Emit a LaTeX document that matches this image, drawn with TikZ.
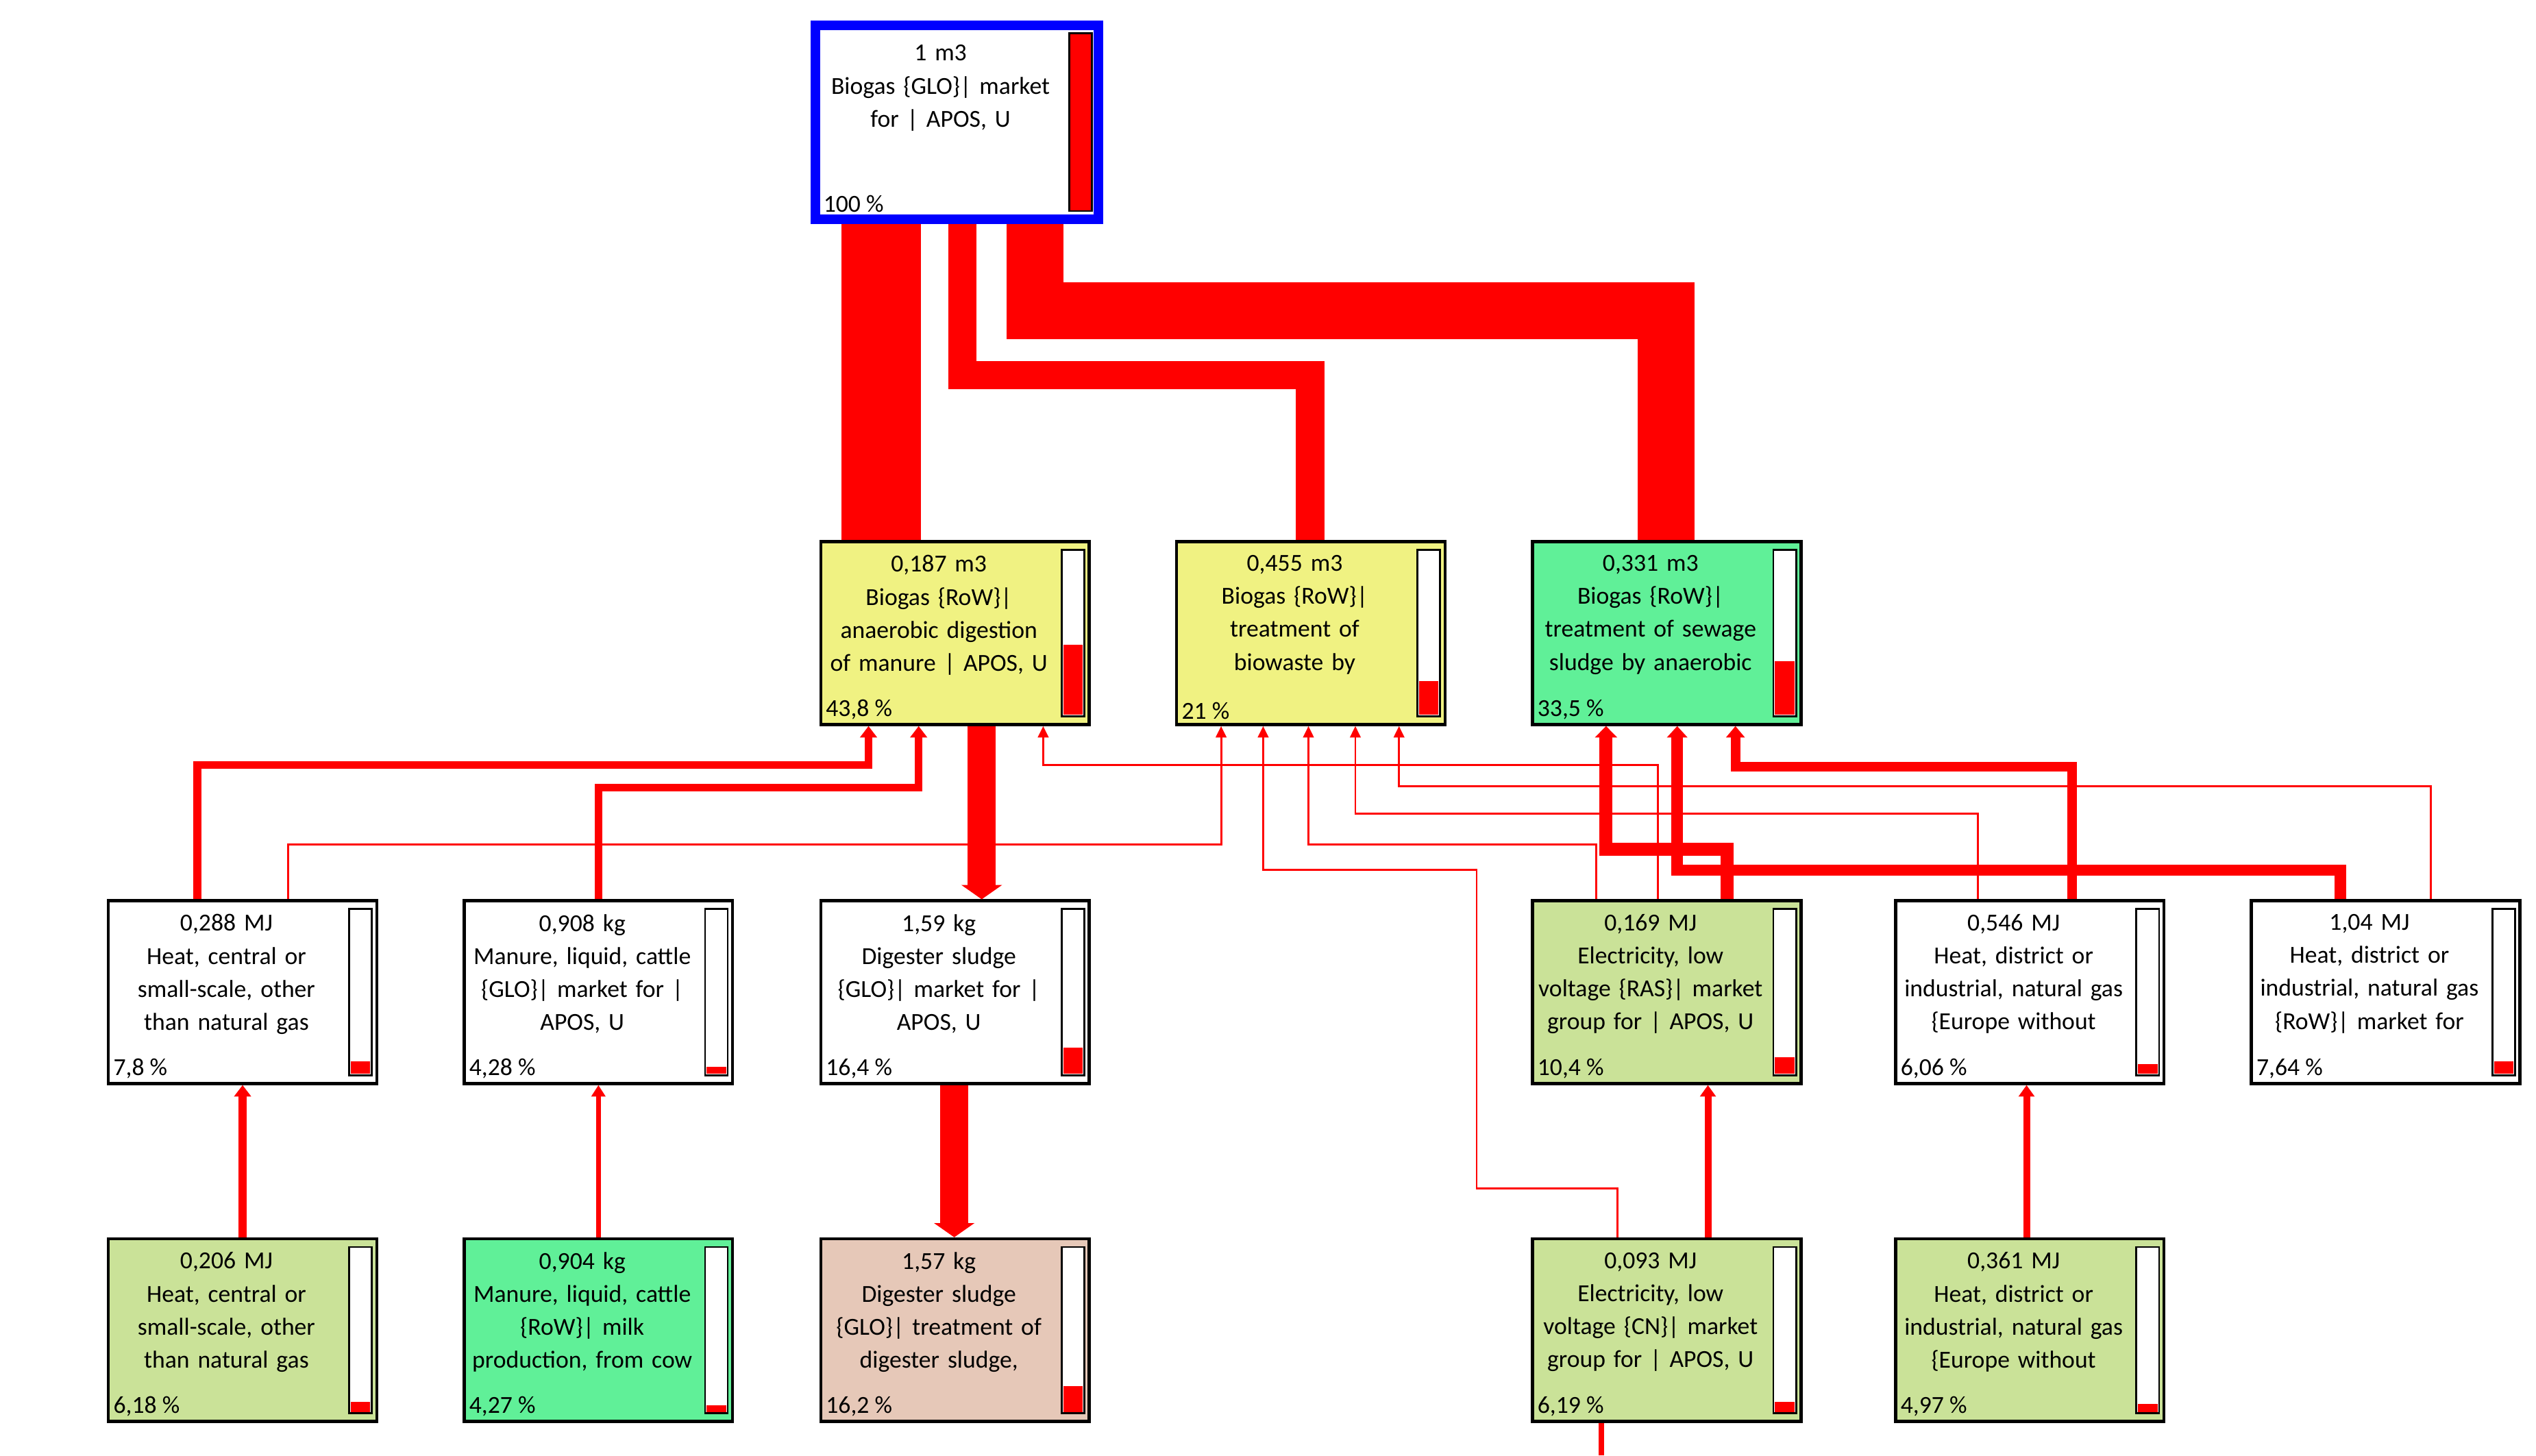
\documentclass[tikz,border=0pt]{standalone}
\usepackage{fontspec}
\setmainfont{Carlito}
\usetikzlibrary{arrows.meta,positioning,calc}

\definecolor{boxyellow}{RGB}{240,242,130}
\definecolor{boxgreen}{RGB}{96,240,152}
\definecolor{boxolive}{RGB}{202,226,152}
\definecolor{boxpink}{RGB}{230,200,184}
\definecolor{flowred}{RGB}{255,0,0}

\tikzset{
  proc/.style={draw=black, line width=1.1pt, minimum width=3.32cm, minimum height=2.26cm, inner sep=0pt},
  proctxt/.style={align=center, font=\fontsize{8.6}{11.6}\selectfont, inner sep=0pt, text width=2.8cm},
  procpct/.style={font=\fontsize{8.6}{10}\selectfont, inner sep=1pt},
  flow/.style={draw=flowred, line join=miter},
  tip/.style={-{Triangle[length=4pt,width=3pt 1]}}
}

% #1 name, #2 centre, #3 fill, #4 text, #5 percent, #6 bar fraction
\newcommand\proc[6]{%
  \node[proc, fill=#3] (#1) at (#2) {};
  \node[proctxt, anchor=north] (#1-txt) at ([xshift=-0.2cm,yshift=-0.18cm]#1.north) {#4};
  \node[procpct, anchor=south west] (#1-pct) at ([xshift=0.04cm,yshift=0.04cm]#1.south west) {#5};
  \draw[fill=white, line width=0.7pt] ([xshift=-0.36cm,yshift=0.12cm]#1.south east) rectangle ([xshift=-0.08cm,yshift=-0.12cm]#1.north east);
  \fill[flowred] ([xshift=-0.34cm,yshift=0.14cm]#1.south east) rectangle ([xshift=-0.1cm,yshift=0.14cm+1.98cm*#6]#1.south east);
}

\begin{document}
\begin{tikzpicture}[x=0.02cm, y=-0.02cm]
\useasboundingbox (0,0) rectangle (1568,900);

%%% boxes
\node[draw=blue, line width=3.4pt, fill=white, minimum width=3.5cm, minimum height=2.4cm, inner sep=0pt] (glo) at (591.5,75.5) {};
\node[proctxt, anchor=north] (glo-txt) at ([xshift=-0.2cm,yshift=-0.3cm]glo.north) {1 m3\\Biogas \{GLO\}| market\\for | APOS, U};
\node[procpct, anchor=south west] (glo-pct) at ([xshift=0.12cm,yshift=0.1cm]glo.south west) {100 \%};
\draw[fill=flowred, line width=0.7pt] ([xshift=-0.42cm,yshift=0.16cm]glo.south east) rectangle ([xshift=-0.14cm,yshift=-0.16cm]glo.north east);

\proc{manure}{590.5,391.5}{boxyellow}{0,187 m3\\Biogas \{RoW\}|\\anaerobic digestion\\of manure | APOS, U}{43,8 \%}{0.438}
\proc{biowaste}{810.5,391.5}{boxyellow}{0,455 m3\\Biogas \{RoW\}|\\treatment of\\biowaste by}{21 \%}{0.21}
\proc{sewage}{1030.5,391.5}{boxgreen}{0,331 m3\\Biogas \{RoW\}|\\treatment of sewage\\sludge by anaerobic}{33,5 \%}{0.335}

\proc{heatc}{150,613.5}{white}{0,288 MJ\\Heat, central or\\small-scale, other\\than natural gas}{7,8 \%}{0.078}
\proc{cattle}{370,613.5}{white}{0,908 kg\\Manure, liquid, cattle\\\{GLO\}| market for |\\APOS, U}{4,28 \%}{0.0428}
\proc{sludge}{590.5,613.5}{white}{1,59 kg\\Digester sludge\\\{GLO\}| market for |\\APOS, U}{16,4 \%}{0.164}
\proc{elras}{1030.5,613.5}{boxolive}{0,169 MJ\\Electricity, low\\voltage \{RAS\}| market\\group for | APOS, U}{10,4 \%}{0.104}
\proc{heateu}{1255,613.5}{white}{0,546 MJ\\Heat, district or\\industrial, natural gas\\\{Europe without}{6,06 \%}{0.0606}
\proc{heatrow}{1475,613.5}{white}{1,04 MJ\\Heat, district or\\industrial, natural gas\\\{RoW\}| market for}{7,64 \%}{0.0764}

\proc{heatc2}{150,822.5}{boxolive}{0,206 MJ\\Heat, central or\\small-scale, other\\than natural gas}{6,18 \%}{0.0618}
\proc{milk}{370,822.5}{boxgreen}{0,904 kg\\Manure, liquid, cattle\\\{RoW\}| milk\\production, from cow}{4,27 \%}{0.0427}
\proc{sludgetr}{590.5,822.5}{boxpink}{1,57 kg\\Digester sludge\\\{GLO\}| treatment of\\digester sludge,}{16,2 \%}{0.162}
\proc{elcn}{1030.5,822.5}{boxolive}{0,093 MJ\\Electricity, low\\voltage \{CN\}| market\\group for | APOS, U}{6,19 \%}{0.0619}
\proc{heateu2}{1255,822.5}{boxolive}{0,361 MJ\\Heat, district or\\industrial, natural gas\\\{Europe without}{4,97 \%}{0.0497}

%%% flows into the top box
\draw[flow, line width=28pt] (manure.north -| 545,0) -- (glo.south -| 545,0);
\draw[flow, line width=10pt] (biowaste.north -| 810,0) -- (810,232) -- (595,232) -- (glo.south -| 595,0);
\draw[flow, line width=20pt] (sewage.north -| 1030,0) -- (1030,192) -- (640,192) -- (glo.south -| 640,0);

%%% flows into row 2
\draw[flow, line width=2.8pt, tip] (heatc.north -| 122,0) -- (122,473) -- (537,473) -- (manure.south -| 537,0);
\draw[flow, line width=2.8pt, tip] (cattle.north -| 370,0) -- (370,487) -- (568,487) -- (manure.south -| 568,0);
\draw[flow, line width=0.7pt, tip] (elras.north -| 1025,0) -- (1025,473) -- (645,473) -- (manure.south -| 645,0);
\draw[flow, line width=10pt, -{Triangle[length=5pt,width=14pt]}] (manure.south -| 607,0) -- (sludge.north -| 607,0);

\draw[flow, line width=0.7pt, tip] (heatc.north -| 178,0) -- (178,522) -- (755,522) -- (biowaste.south -| 755,0);
\draw[flow, line width=0.7pt, tip] (elcn.north -| 1000,0) -- (1000,735) -- (913,735) -- (913,538) -- (781,538) -- (biowaste.south -| 781,0);
\draw[flow, line width=0.7pt, tip] (elras.north -| 987,0) -- (987,522) -- (809,522) -- (biowaste.south -| 809,0);
\draw[flow, line width=0.7pt, tip] (heateu.north -| 1223,0) -- (1223,503) -- (838,503) -- (biowaste.south -| 838,0);
\draw[flow, line width=0.7pt, tip] (heatrow.north -| 1503,0) -- (1503,486) -- (865,486) -- (biowaste.south -| 865,0);

\draw[flow, line width=4.6pt, tip] (elras.north -| 1068,0) -- (1068,525) -- (993,525) -- (sewage.south -| 993,0);
\draw[flow, line width=4pt, tip] (heatrow.north -| 1447,0) -- (1447,538) -- (1037,538) -- (sewage.south -| 1037,0);
\draw[flow, line width=3.4pt, tip] (heateu.north -| 1281,0) -- (1281,474) -- (1073,474) -- (sewage.south -| 1073,0);

%%% flows into row 3
\draw[flow, line width=2.8pt, tip] (heatc2.north -| 150,0) -- (heatc.south -| 150,0);
\draw[flow, line width=1.8pt, tip] (milk.north -| 370,0) -- (cattle.south -| 370,0);
\draw[flow, line width=10pt, -{Triangle[length=5pt,width=14pt]}] (sludge.south -| 590,0) -- (sludgetr.north -| 590,0);
\draw[flow, line width=2.4pt, tip] (elcn.north -| 1056,0) -- (elras.south -| 1056,0);
\draw[flow, line width=2.4pt, tip] (heateu2.north -| 1253,0) -- (heateu.south -| 1253,0);

%%% flow leaving the picture
\coordinate (offcn) at (990,900);
\draw[flow, line width=2pt] (offcn) -- (elcn.south -| offcn);

\end{tikzpicture}
\end{document}
